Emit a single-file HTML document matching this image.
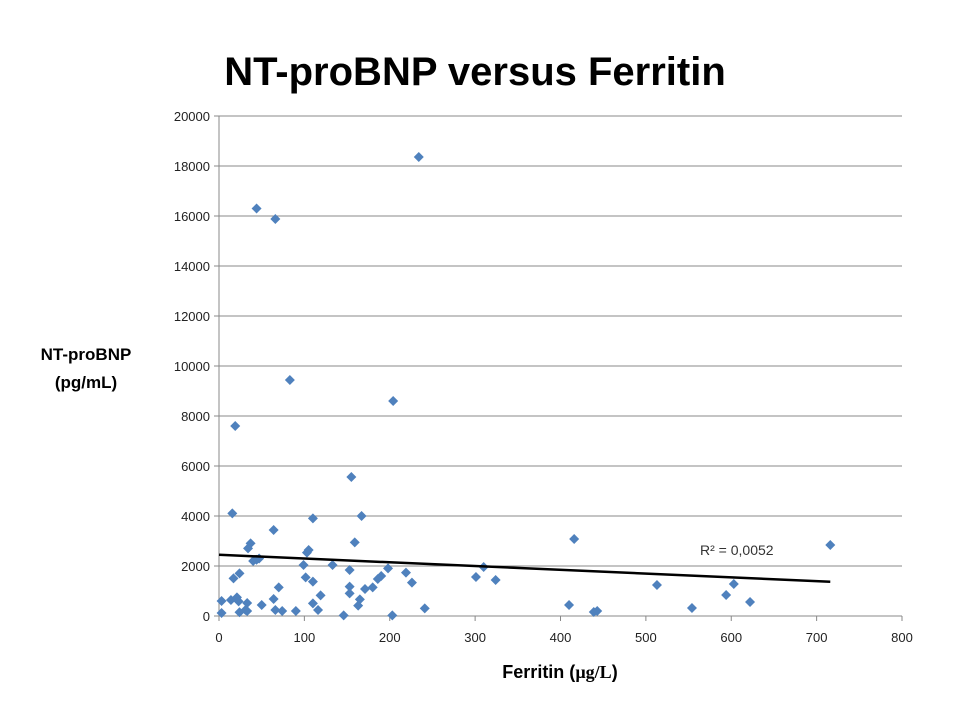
<!DOCTYPE html>
<html><head><meta charset="utf-8"><style>
body{margin:0;background:#fff;}
svg{display:block;font-family:"Liberation Sans",sans-serif;}
</style></head><body>
<svg id="chart" width="960" height="720">
<text x="475" y="85" font-size="40" font-weight="bold" text-anchor="middle">NT-proBNP versus Ferritin</text>
<text x="86" y="360" font-size="17" font-weight="bold" text-anchor="middle"><tspan x="86">NT-proBNP</tspan><tspan x="86" dy="28">(pg/mL)</tspan></text>
<text x="560" y="678" font-size="18" font-weight="bold" text-anchor="middle">Ferritin (<tspan font-family="Liberation Serif,serif">µg/L</tspan>)</text>
<g id="grid"></g><g id="axes"></g><g id="pts"></g><g id="trend"></g>
<text x="700" y="555" font-size="14" fill="#333">R² = 0,0052</text>
</svg>
<script>
const xTicks=[0,100,200,300,400,500,600,700,800];
const yTicks=[0,2000,4000,6000,8000,10000,12000,14000,16000,18000,20000];
const ferritin=[15.6,110,167,64,37,34,159,105,103,40,47,44,99,133,153,198,219,226,190,186,180,171,17,24,101.5,110,70,153,153,119,165,163,3,14,21,23,33,64,50,110,66,74,90,116,3,24,33,31,146,203,241,19,44,66,83,234,204,155,301,310,324,416,410,439,443,513,554,594,603,622,716];
const ntprobnp=[4107,3907,4000,3440,2907,2707,2947,2640,2533,2200,2300,2250,2040,2040,1840,1907,1733,1333,1600,1480,1147,1080,1507,1707,1547,1373,1147,1173,907,827,667,413,600,640,747,587,520,680,440,507,240,200,200,240,120,150,200,240,27,27,307,7600,16300,15880,9440,18360,8600,5560,1560,1960,1440,3080,440,160,200,1240,320,840,1280,560,2840];
const trendX=[0,716];
const trendY=[2450,1370];
const NS="http://www.w3.org/2000/svg";
const X0=219,X1=902,Y0=616,Y1=116;
const sx=v=>X0+(v-0)/(800-0)*(X1-X0);
const sy=v=>Y0-(v-0)/(20000-0)*(Y0-Y1);
function mk(tag,attrs,parent){const e=document.createElementNS(NS,tag);for(const k in attrs)e.setAttribute(k,attrs[k]);parent.appendChild(e);return e;}
const grid=document.getElementById('grid'),axes=document.getElementById('axes'),pts=document.getElementById('pts'),trend=document.getElementById('trend');
yTicks.forEach(t=>{
 const l=mk('line',{x1:X0,x2:X1,y1:sy(t),y2:sy(t),stroke:'#888','stroke-width':1},grid);
 
 
 const tk=mk('line',{x1:X0-5,x2:X0,y1:sy(t),y2:sy(t),stroke:'#888'},axes);
 
 
 const tx=mk('text',{x:X0-9,y:sy(t)+5,'font-size':13,'text-anchor':'end',fill:'#222'},axes);
 tx.textContent=t;
 
 
});
xTicks.forEach(t=>{
 const tk=mk('line',{x1:sx(t),x2:sx(t),y1:Y0,y2:Y0+5,stroke:'#888'},axes);
 
 
 const tx=mk('text',{x:sx(t),y:Y0+26,'font-size':13,'text-anchor':'middle',fill:'#222'},axes);
 tx.textContent=t;
 
 
});
const ya=mk('line',{x1:X0,x2:X0,y1:Y1,y2:Y0,stroke:'#888'},axes);


const xa=mk('line',{x1:X0,x2:X1,y1:Y0,y2:Y0,stroke:'#888'},axes);


ferritin.forEach((f,i)=>{
 const cx=sx(f),cy=sy(ntprobnp[i]),r=5;
 const p=mk('polygon',{points:`${cx},${cy-r} ${cx+r},${cy} ${cx},${cy+r} ${cx-r},${cy}`,fill:'#4f81bd'},pts);
 
 
});
const tl=mk('line',{x1:sx(trendX[0]),y1:sy(trendY[0]),x2:sx(trendX[1]),y2:sy(trendY[1]),stroke:'#000','stroke-width':2.5},trend);


</script>
</body></html>
